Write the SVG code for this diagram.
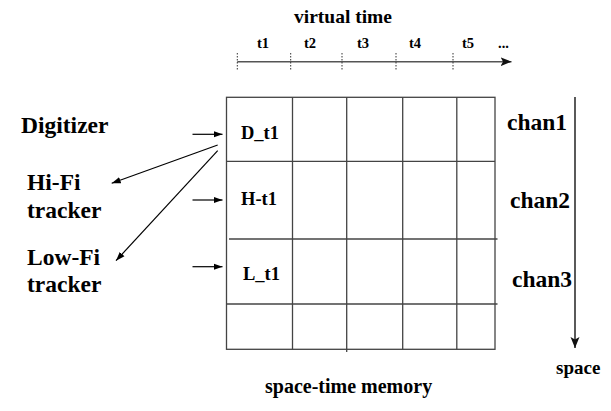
<svg xmlns="http://www.w3.org/2000/svg" width="611" height="411" viewBox="0 0 611 411">
<style>
.t{font-family:'Liberation Serif','DejaVu Serif',serif;font-weight:700;fill:#000}
.big{font-size:23.5px}
.cell{font-size:18.5px}
.tl{font-size:14.5px}
.grid{stroke:#444;stroke-width:1.3;fill:none}
.conn{stroke:#000;stroke-width:1.2;fill:none}
.tick{stroke:#333;stroke-width:1;stroke-dasharray:1.5 1.5}
</style>
<defs>
<marker id="ah" markerWidth="10" markerHeight="8" refX="9" refY="4" orient="auto" markerUnits="userSpaceOnUse">
<path d="M0,0.8 L9,4 L0,7.2 Z" fill="#000"/>
</marker>
<marker id="ahg" markerWidth="12" markerHeight="10" refX="11" refY="5" orient="auto" markerUnits="userSpaceOnUse">
<path d="M0,0.5 L11,5 L0,9.5 L2.5,5 Z" fill="#111"/>
</marker>
</defs>
<rect width="611" height="411" fill="#fff"/>

<g id="timeaxis">
<text class="t" x="343" y="23" font-size="19.5" text-anchor="middle">virtual time</text>
<text class="t tl" x="257" y="47.5">t1</text>
<text class="t tl" x="304" y="47.5">t2</text>
<text class="t tl" x="357" y="47.5">t3</text>
<text class="t tl" x="409" y="47.5">t4</text>
<text class="t tl" x="462" y="47.5">t5</text>
<text class="t tl" x="498" y="47.5">...</text>
<line x1="237.3" y1="61.7" x2="511.5" y2="61.7" stroke="#555" stroke-width="1.6" marker-end="url(#ahg)"/>
<line class="tick" x1="237.3" y1="53" x2="237.3" y2="70"/>
<line class="tick" x1="290.7" y1="53" x2="290.7" y2="70"/>
<line class="tick" x1="342" y1="53" x2="342" y2="70"/>
<line class="tick" x1="396" y1="53" x2="396" y2="70"/>
<line class="tick" x1="453" y1="53" x2="453" y2="70"/>
</g>

<g id="memory">
<rect class="grid" x="226.5" y="97.3" width="268.5" height="252"/>
<line class="grid" x1="292.5" y1="97.3" x2="292.5" y2="349.3"/>
<line class="grid" x1="346.7" y1="97.3" x2="346.7" y2="352"/>
<line class="grid" x1="402.7" y1="97.3" x2="402.7" y2="349.3"/>
<line class="grid" x1="456.8" y1="97.3" x2="456.8" y2="349.3"/>
<line class="grid" x1="226.5" y1="161.3" x2="495" y2="161.3"/>
<line class="grid" x1="229" y1="239" x2="497.5" y2="239"/>
<line class="grid" x1="226.5" y1="304" x2="497.5" y2="304"/>
</g>

<g id="D_t1"><text class="t cell" x="241" y="139">D_t1</text></g>
<g id="H-t1"><text class="t cell" x="241" y="205">H-t1</text></g>
<g id="L_t1"><text class="t cell" x="243" y="280">L_t1</text></g>

<g id="digitizer"><text class="t big" x="21" y="133">Digitizer</text></g>
<g id="hifi"><text class="t big" x="27" y="190">Hi-Fi</text><text class="t big" x="27" y="218">tracker</text></g>
<g id="lowfi"><text class="t big" x="27" y="265">Low-Fi</text><text class="t big" x="27" y="292">tracker</text></g>

<g id="chan1"><text class="t big" x="507" y="130">chan1</text></g>
<g id="chan2"><text class="t big" x="510" y="208">chan2</text></g>
<g id="chan3"><text class="t big" x="512" y="287">chan3</text></g>

<g id="spaceaxis">
<line x1="575" y1="97" x2="575" y2="348" stroke="#000" stroke-width="1.3" marker-end="url(#ahg)"/>
<text class="t" x="556" y="374" font-size="19">space</text>
</g>

<g id="caption"><text class="t" x="265" y="393" font-size="20">space-time memory</text></g>

<g id="connectors">
<line class="conn" x1="192.5" y1="134.3" x2="222.5" y2="134.3" marker-end="url(#ah)"/>
<line class="conn" x1="192.5" y1="200" x2="222.5" y2="200" marker-end="url(#ah)"/>
<line class="conn" x1="192.5" y1="266.7" x2="222.5" y2="266.7" marker-end="url(#ah)"/>
<line class="conn" x1="217.7" y1="145" x2="111.7" y2="183.3" marker-end="url(#ah)"/>
<line class="conn" x1="217.7" y1="150.7" x2="116" y2="260.7" marker-end="url(#ah)"/>
</g>
</svg>
